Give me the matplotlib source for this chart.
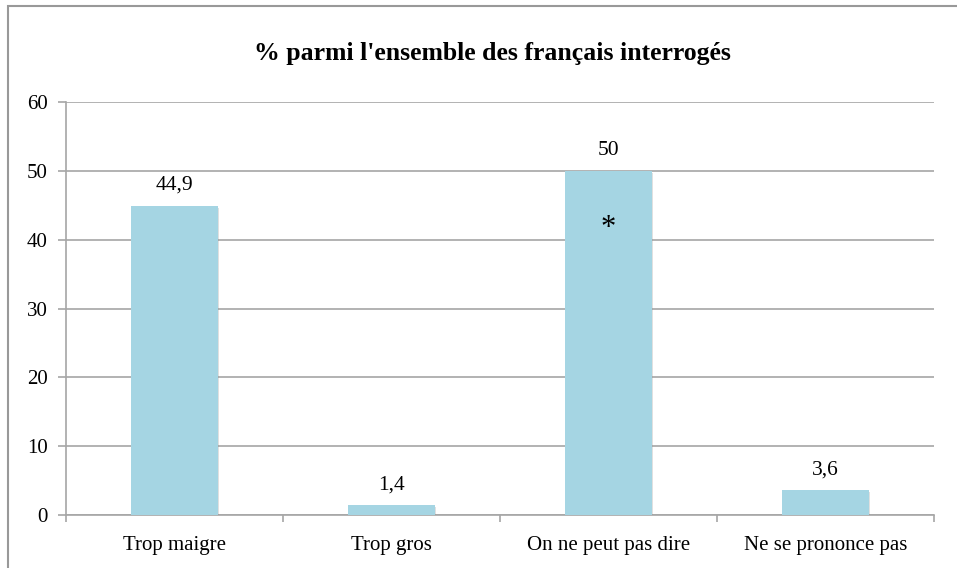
import matplotlib
matplotlib.use("Agg")
import matplotlib.pyplot as plt
import matplotlib.patheffects as pe
from matplotlib.patches import Rectangle

# Données
categories = ["Trop maigre", "Trop gros", "On ne peut pas dire", "Ne se prononce pas"]
values = [44.9, 1.4, 50, 3.6]
labels = ["44,9", "1,4", "50", "3,6"]
title = "% parmi l'ensemble des français interrogés"

plt.rcParams['font.family'] = ['Liberation Serif', 'DejaVu Serif']

fig = plt.figure(figsize=(9.57, 5.68), dpi=100)
ax = fig.add_axes([0.069, 0.0933, 0.907, 0.727])

grid_col = "#A6A6A6"
bar_col = "#A5D5E3"

x = range(len(categories))
bars = ax.bar(x, values, width=0.40, color=bar_col, zorder=3,
              path_effects=[pe.SimplePatchShadow(offset=(0.8, -1.2), shadow_rgbFace="#999999", alpha=0.3),
                            pe.Normal()])

for b, lab in zip(bars, labels):
    ax.annotate(lab, (b.get_x() + b.get_width() / 2, b.get_height()),
                xytext=(0, 8), textcoords="offset points",
                ha="center", va="bottom", fontsize=15.5)

# astérisque dans la barre "On ne peut pas dire"
ax.text(2, 41.6, "*", ha="center", va="center", fontsize=22, zorder=4)

ax.set_xlim(-0.5, len(categories) - 0.5)
ax.set_ylim(0, 60)
ax.set_yticks(range(0, 61, 10))
ax.set_xticks([i + 0.5 for i in range(-1, len(categories))], minor=False)
ax.set_xticklabels([""] * (len(categories) + 1))
ax.set_xticks(list(x), minor=True)
ax.set_xticklabels(categories, minor=True)
ax.tick_params(axis="x", which="minor", length=0, pad=15, labelsize=15)
ax.tick_params(axis="x", which="major", length=5, color=grid_col, width=1.2)
ax.tick_params(axis="y", length=6, color=grid_col, width=1.2, labelsize=15, pad=7)

ax.yaxis.grid(True, color=grid_col, linewidth=1.2, zorder=0)
ax.set_axisbelow(True)
for s in ["top", "right"]:
    ax.spines[s].set_visible(False)
for s in ["left", "bottom"]:
    ax.spines[s].set_color(grid_col)
    ax.spines[s].set_linewidth(1.2)

fig.text(0.515, 0.906, title, ha="center", va="center", fontsize=18.5, fontweight="bold")

# cadre extérieur
fig.patches.append(Rectangle((0.008, -0.01), 1.0, 0.999, transform=fig.transFigure,
                             fill=False, edgecolor="#999999", linewidth=1.5))

fig.savefig("out.png", dpi=100)
